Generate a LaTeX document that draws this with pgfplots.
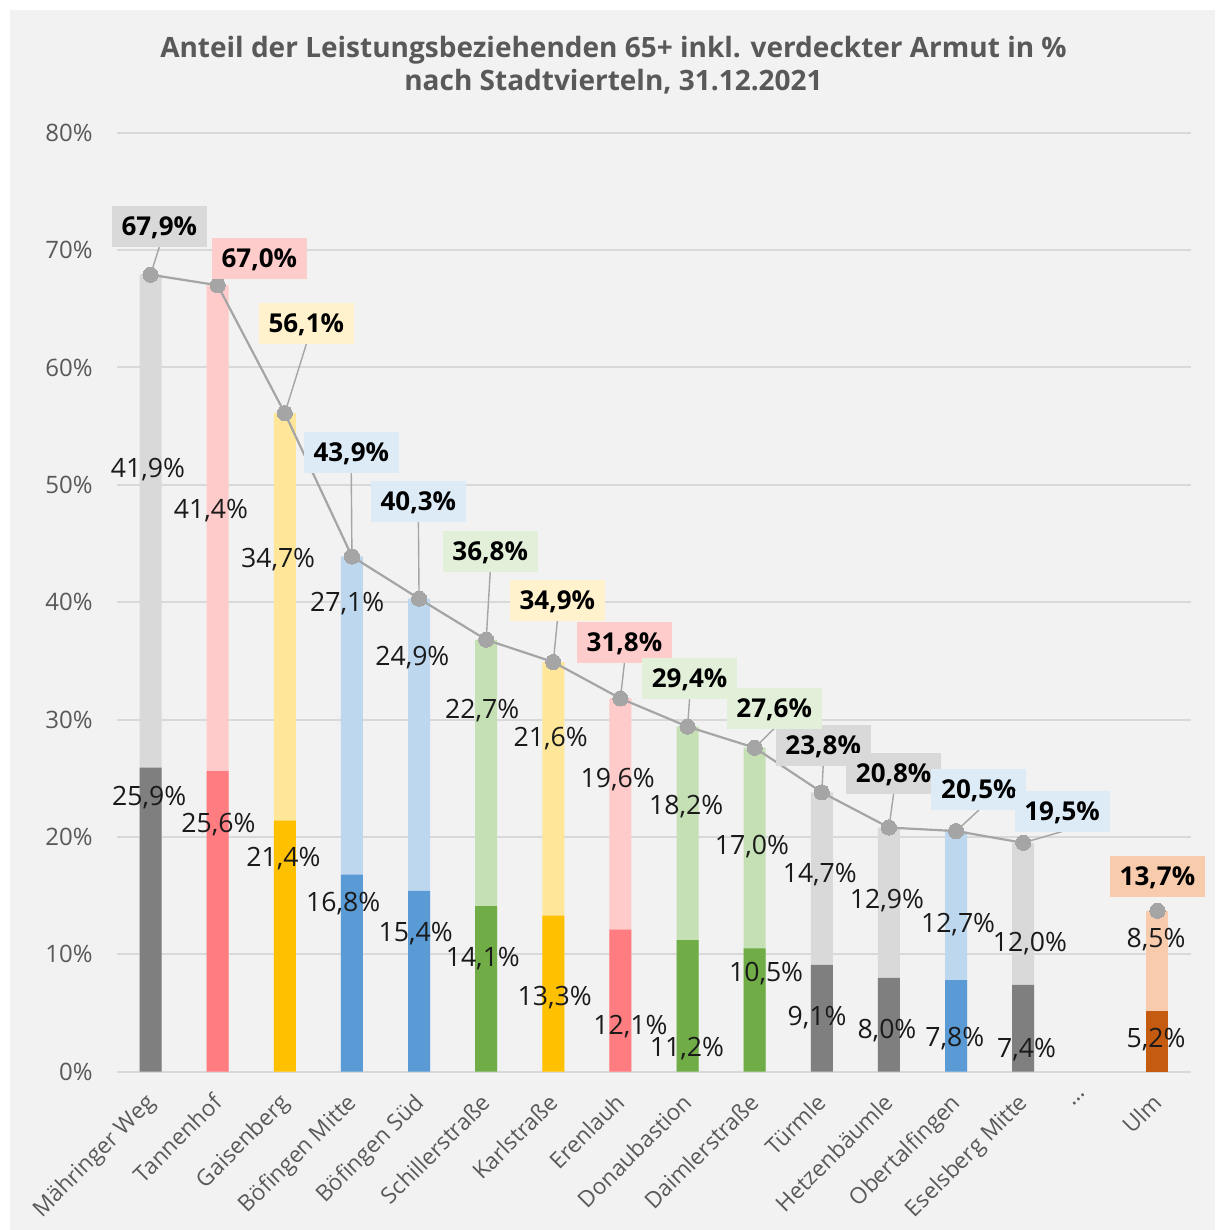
\documentclass[border=0pt]{standalone}
\usepackage{pgfplots}
\pgfplotsset{compat=1.18}
\usepackage{fontspec}
\setmainfont{Open Sans}
\definecolor{bg}{HTML}{F2F2F2}
\definecolor{gridc}{HTML}{D9D9D9}
\definecolor{tickc}{HTML}{595959}
\definecolor{titlec}{HTML}{595959}
\definecolor{lc}{HTML}{A5A5A5}
\definecolor{labc}{HTML}{1A1A1A}
\definecolor{grayD}{HTML}{7F7F7F}
\definecolor{grayL}{HTML}{D9D9D9}
\definecolor{grayB}{HTML}{D9D9D9}
\definecolor{redD}{HTML}{FF7C80}
\definecolor{redL}{HTML}{FFCACA}
\definecolor{redB}{HTML}{FFCCCC}
\definecolor{yelD}{HTML}{FFC000}
\definecolor{yelL}{HTML}{FFE699}
\definecolor{yelB}{HTML}{FFF2CC}
\definecolor{bluD}{HTML}{5B9BD5}
\definecolor{bluL}{HTML}{BDD7EE}
\definecolor{bluB}{HTML}{DDEBF7}
\definecolor{grnD}{HTML}{70AD47}
\definecolor{grnL}{HTML}{C5E0B4}
\definecolor{grnB}{HTML}{E2F0D9}
\definecolor{orgD}{HTML}{C55A11}
\definecolor{orgL}{HTML}{F8CBAD}
\definecolor{orgB}{HTML}{F8CBAD}
\pgfplotsset{
  barS/.style={ybar, bar width=11pt, bar shift=0pt, draw=none, fill=#1},
  boxS/.style={draw=none, mark=none, nodes near coords, point meta=explicit symbolic,
    nodes near coords style={anchor=center, fill=#1, draw=none, text=black,
      font=\fontsize{13}{15}\selectfont\bfseries, text height=9.3pt, text depth=0pt,
      inner ysep=5.6pt, inner xsep=2pt, minimum width=47.5pt}},
  labS/.style={draw=none, mark=none, nodes near coords, point meta=explicit symbolic,
    nodes near coords style={anchor=center, draw=none, text=labc,
      font=\fontsize{13.3}{16}\selectfont, text height=9.5pt, text depth=0pt, inner sep=0pt}},
}
\begin{document}
\begin{tikzpicture}[x=1pt,y=1pt]
\path[use as bounding box] (0,0) rectangle (607.5,615);
\fill[bg] (5,0) rectangle (607.5,610);
\begin{axis}[
  at={(58.5pt,79.15pt)}, anchor=south west,
  scale only axis, width=537pt, height=469.5pt,
  xmin=-0.5, xmax=15.5, ymin=0, ymax=80,
  axis line style={draw=none},
  ytick={0,10,...,80},
  yticklabels={0\%,10\%,20\%,30\%,40\%,50\%,60\%,70\%,80\%},
  xtick={0,...,15},
  xticklabels={Mähringer Weg,Tannenhof,Gaisenberg,Böfingen Mitte,Böfingen Süd,Schillerstraße,Karlstraße,Erenlauh,Donaubastion,Daimlerstraße,Türmle,Hetzenbäumle,Obertalfingen,Eselsberg Mitte,…,Ulm},
  major tick length=0pt,
  ymajorgrids, grid style={draw=gridc, line width=1pt},
  tick label style={font=\fontsize{12}{14}\selectfont, text=tickc},
  yticklabel style={anchor=east, inner sep=0pt, xshift=-12pt},
  xticklabel style={font=\fontsize{11.3}{13}\selectfont, rotate=45, anchor=north east, inner sep=0pt, xshift=-9.3pt, yshift=-4.7pt},
  clip=false,
]
% full bars (total)
\addplot[barS=grayL] coordinates {(0,67.9) (10,23.8) (11,20.8) (13,19.5)};
\addplot[barS=redL] coordinates {(1,67.0) (7,31.8)};
\addplot[barS=yelL] coordinates {(2,56.1) (6,34.9)};
\addplot[barS=bluL] coordinates {(3,43.9) (4,40.3) (12,20.5)};
\addplot[barS=grnL] coordinates {(5,36.8) (8,29.4) (9,27.6)};
\addplot[barS=orgL] coordinates {(15,13.7)};
% dark part
\addplot[barS=grayD] coordinates {(0,25.9) (10,9.1) (11,8.0) (13,7.4)};
\addplot[barS=redD] coordinates {(1,25.6) (7,12.1)};
\addplot[barS=yelD] coordinates {(2,21.4) (6,13.3)};
\addplot[barS=bluD] coordinates {(3,16.8) (4,15.4) (12,7.8)};
\addplot[barS=grnD] coordinates {(5,14.1) (8,11.2) (9,10.5)};
\addplot[barS=orgD] coordinates {(15,5.2)};
% leader lines
\addplot[lc, line width=0.7pt, mark=none, unbounded coords=jump] coordinates {
(0,67.9) (0.13,70.25) (nan,nan)
(2,56.1) (2.32,61.98) (nan,nan)
(3,43.9) (2.99,51.04) (nan,nan)
(4,40.3) (3.99,46.86) (nan,nan)
(5,36.8) (5.06,42.56) (nan,nan)
(6,34.9) (6.06,38.39) (nan,nan)
(7,31.8) (7.06,34.85) (nan,nan)
(8,29.4) (8.03,31.78) (nan,nan)
(9,27.6) (9.29,29.23) (nan,nan)
(10,23.8) (10.02,26.04) (nan,nan)
(11,20.8) (11.07,23.69) (nan,nan)
(12,20.5) (12.34,22.29) (nan,nan)
(13,19.5) (13.58,20.46)
};
% total line
\addplot[lc, line width=1.1pt, mark=*, mark size=3.8pt, mark options={fill=lc, draw=lc, line width=0pt}] coordinates {
(0,67.9) (1,67.0) (2,56.1) (3,43.9) (4,40.3) (5,36.8) (6,34.9) (7,31.8) (8,29.4) (9,27.6) (10,23.8) (11,20.8) (12,20.5) (13,19.5)};
\addplot[only marks, mark=*, mark size=3.8pt, mark options={fill=lc, draw=lc, line width=0pt}] coordinates {(15,13.7)};
% total labels
\addplot[boxS=grayB] coordinates {(0.13,72.0) [67,9\%] (10.02,27.79) [23,8\%] (11.07,25.44) [20,8\%]};
\addplot[boxS=redB] coordinates {(1.62,69.27) [67,0\%] (7.06,36.60) [31,8\%]};
\addplot[boxS=yelB] coordinates {(2.32,63.73) [56,1\%] (6.06,40.14) [34,9\%]};
\addplot[boxS=bluB] coordinates {(2.99,52.79) [43,9\%] (3.99,48.61) [40,3\%] (12.34,24.04) [20,5\%] (13.58,22.21) [19,5\%]};
\addplot[boxS=grnB] coordinates {(5.06,44.31) [36,8\%] (8.03,33.53) [29,4\%] (9.29,30.98) [27,6\%]};
\addplot[boxS=orgB] coordinates {(15.0,16.63) [13,7\%]};
% segment labels
\addplot[labS] coordinates {
(-0.04,51.42) [41,9\%] (0.90,47.93) [41,4\%] (1.90,43.76) [34,7\%] (2.93,40.01) [27,1\%]
(3.90,35.45) [24,9\%] (4.94,30.89) [22,7\%] (5.96,28.50) [21,6\%] (6.96,25.06) [19,6\%]
(7.98,22.76) [18,2\%] (8.96,19.31) [17,0\%] (9.97,16.93) [14,7\%] (10.97,14.71) [12,9\%]
(12.03,12.67) [12,7\%] (13.10,11.02) [12,0\%] (14.98,11.35) [8,5\%]
(-0.02,23.53) [25,9\%] (1.01,21.23) [25,6\%] (1.98,18.29) [21,4\%] (2.87,14.45) [16,8\%]
(3.95,11.90) [15,4\%] (4.95,9.77) [14,1\%] (6.02,6.49) [13,3\%] (7.15,4.02) [12,1\%]
(7.99,2.10) [11,2\%] (9.17,8.49) [10,5\%] (9.93,4.74) [9,1\%] (10.97,3.64) [8,0\%]
(11.98,2.96) [7,8\%] (13.05,2.06) [7,4\%] (14.98,2.91) [5,2\%]
};
\end{axis}
\node[anchor=base, font=\fontsize{14}{17}\selectfont\bfseries, text=titlec] at (306.75,586.35) {Anteil der Leistungsbeziehenden 65+ inkl. verdeckter Armut in \%};
\node[anchor=base, font=\fontsize{14}{17}\selectfont\bfseries, text=titlec] at (306.75,569.5) {nach Stadtvierteln, 31.12.2021};
\end{tikzpicture}
\end{document}
